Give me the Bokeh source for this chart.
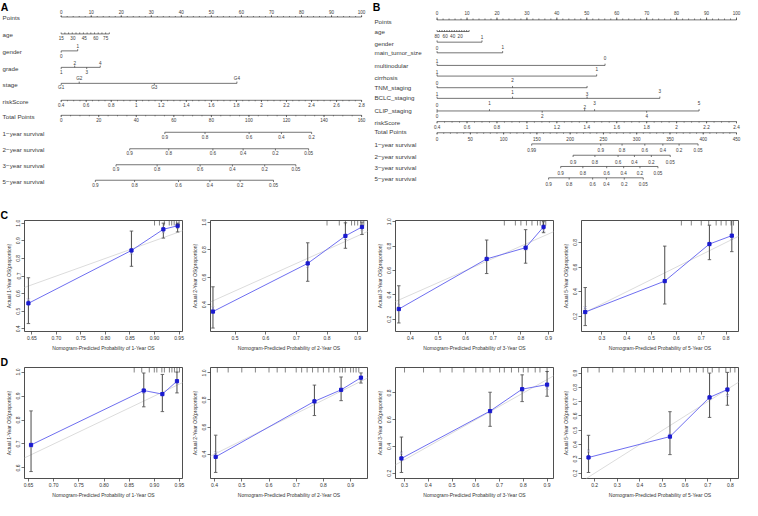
import numpy as np
from bokeh.plotting import figure
from bokeh.layouts import column, row
from bokeh.models import Range1d, Title, FixedTicker, NumeralTickFormatter
from bokeh.core.properties import value
from bokeh.embed import file_html
from bokeh.resources import INLINE

FONT = "Liberation Sans"
INK = "#3a3a3a"

# ======================= Panel A : nomogram (training set) =======================
A_points = [0, 10, 20, 30, 40, 50, 60, 70, 80, 90, 100]
A_age_vals = ["15", "30", "45", "60", "75"]
A_age_pts = [0.0, 3.9, 7.7, 11.5, 14.8]
A_age_end = 16.0
A_gender_lab = ["0", "1"]
A_gender_pts = [0.0, 5.5]
A_gender_side = ["b", "a"]
A_grade_lab = ["1", "2", "3", "4"]
A_grade_pts = [0.0, 4.5, 8.5, 13.0]
A_grade_side = ["b", "a", "b", "a"]
A_stage_lab = ["G1", "G2", "G3", "G4"]
A_stage_pts = [0.0, 6.0, 31.0, 58.5]
A_stage_side = ["b", "a", "b", "a"]
A_risk_vals = [0.4, 0.6, 0.8, 1, 1.2, 1.4, 1.6, 1.8, 2, 2.2, 2.4, 2.6, 2.8]
A_total_vals = [0, 20, 40, 60, 80, 100, 120, 140, 160]
A_s1_lab = ["0.9", "0.8", "0.6", "0.4", "0.2"]
A_s1_tp = [55.2, 76.6, 100.1, 117.3, 133.4]
A_s2_lab = ["0.9", "0.8", "0.6", "0.4", "0.2", "0.05"]
A_s2_tp = [36.5, 57.3, 80.8, 96.9, 114.1, 131.8]
A_s3_lab = ["0.9", "0.8", "0.6", "0.4", "0.2", "0.05"]
A_s3_tp = [29.2, 51.1, 74.0, 91.2, 108.4, 125.0]
A_s5_lab = ["0.9", "0.8", "0.6", "0.4", "0.2", "0.05"]
A_s5_tp = [18.2, 39.1, 62.5, 79.2, 95.3, 113.1]

# ======================= Panel B : nomogram (second cohort) =======================
B_points = [0, 10, 20, 30, 40, 50, 60, 70, 80, 90, 100]
B_age_lab = ["80", "60", "40", "20"]
B_age_pts = [0.0, 2.7, 5.2, 7.7]
B_age_end = 10.7
B_gender_lab = ["1"]
B_gender_pts = [15.0]
B_mts_lab = ["0", "1"]
B_mts_pts = [0.0, 21.9]
B_multi_lab = ["1", "0"]
B_multi_pts = [0.0, 56.1]
B_cirr_lab = ["1", "1"]
B_cirr_pts = [0.0, 53.3]
B_tnm_lab = ["0", "2"]
B_tnm_pts = [0.0, 25.2]
B_tnm_end = 50.1
B_bclc_lab = ["1", "1", "3", "3"]
B_bclc_pts = [0.0, 25.2, 50.1, 74.4]
B_clip_lab = ["0", "1", "2", "3", "5", "0", "2", "4"]
B_clip_pts = [0.0, 17.5, 49.3, 52.6, 87.5, 0.0, 35.1, 70.0]
B_risk_vals = [0.4, 0.6, 0.8, 1, 1.2, 1.4, 1.6, 1.8, 2, 2.2, 2.4]
B_total_vals = [0, 50, 100, 150, 200, 250, 300, 350, 400, 450]
B_s1_lab = ["0.99", "0.9", "0.8", "0.6", "0.4", "0.2", "0.05"]
B_s1_tp = [142.2, 246.0, 278.0, 312.2, 339.3, 363.7, 392.2]
B_s2_lab = ["0.9", "0.8", "0.6", "0.4", "0.2", "0.05"]
B_s2_tp = [204.4, 237.2, 272.0, 296.6, 322.0, 350.4]
B_s3_lab = ["0.9", "0.8", "0.6", "0.4", "0.2", "0.05"]
B_s3_tp = [185.8, 219.1, 254.9, 280.4, 304.9, 331.9]
B_s5_lab = ["0.9", "0.8", "0.6", "0.4", "0.2", "0.05"]
B_s5_tp = [167.6, 198.5, 233.8, 254.4, 281.3, 309.8]

# ======================= Calibration curves (C: training, D: validation) =======================
cal_names = ["1", "2", "3", "5"]
C_pred = [[0.643, 0.853, 0.918, 0.947], [0.428, 0.737, 0.860, 0.914],
          [0.358, 0.676, 0.817, 0.882], [0.233, 0.553, 0.733, 0.823]]
C_obs = [[0.545, 0.845, 0.965, 0.985], [0.350, 0.700, 0.900, 0.965],
         [0.284, 0.695, 0.787, 0.958], [0.235, 0.486, 0.787, 0.855]]
C_lo = [[0.430, 0.755, 0.915, 0.950], [0.230, 0.570, 0.810, 0.910],
        [0.170, 0.575, 0.660, 0.910], [0.125, 0.300, 0.660, 0.725]]
C_hi = [[0.690, 0.955, 1.000, 1.000], [0.530, 0.850, 0.995, 1.000],
        [0.475, 0.850, 0.935, 1.000], [0.434, 0.770, 0.940, 0.990]]
C_corr = [[0.565, 0.830, 0.950, 0.975], [0.375, 0.680, 0.880, 0.950],
          [0.315, 0.690, 0.775, 0.930], [0.270, 0.490, 0.780, 0.830]]
C_xt = [[0.65, 0.70, 0.75, 0.80, 0.85, 0.90, 0.95], [0.5, 0.6, 0.7, 0.8, 0.9],
        [0.4, 0.5, 0.6, 0.7, 0.8, 0.9], [0.3, 0.4, 0.5, 0.6, 0.7, 0.8]]
C_yt = [[0.4, 0.5, 0.6, 0.7, 0.8, 0.9, 1.0], [0.4, 0.6, 0.8, 1.0],
        [0.2, 0.4, 0.6, 0.8, 1.0], [0.2, 0.4, 0.6, 0.8]]
C_rug = [[0.90, 0.91, 0.92, 0.93, 0.935, 0.94, 0.945, 0.95],
         [0.80, 0.84, 0.86, 0.88, 0.89, 0.90, 0.91, 0.92],
         [0.74, 0.78, 0.80, 0.82, 0.84, 0.86, 0.87, 0.88, 0.89],
         [0.62, 0.66, 0.70, 0.73, 0.76, 0.78, 0.80, 0.82, 0.83]]
C_xr = [(0.635, 0.957), (0.420, 0.932), (0.346, 0.918), (0.218, 0.850)]
C_yr = [(0.385, 1.015), (0.205, 1.012), (0.100, 1.010), (0.077, 0.978)]
D_pred = [[0.655, 0.879, 0.916, 0.945], [0.404, 0.767, 0.865, 0.938],
          [0.287, 0.660, 0.795, 0.900], [0.173, 0.533, 0.708, 0.787]]
D_obs = [[0.696, 0.923, 0.908, 0.962], [0.380, 0.790, 0.875, 0.965],
         [0.310, 0.664, 0.828, 0.862], [0.310, 0.456, 0.730, 0.785]]
D_lo = [[0.585, 0.855, 0.835, 0.913], [0.265, 0.685, 0.795, 0.925],
        [0.205, 0.550, 0.735, 0.775], [0.205, 0.330, 0.590, 0.675]]
D_hi = [[0.838, 0.996, 0.990, 1.000], [0.540, 0.910, 0.970, 1.000],
        [0.470, 0.805, 0.935, 0.960], [0.465, 0.630, 0.900, 0.905]]
D_corr = [[0.690, 0.915, 0.905, 0.955], [0.410, 0.785, 0.870, 0.955],
          [0.350, 0.660, 0.820, 0.835], [0.355, 0.465, 0.720, 0.745]]
D_xt = [[0.65, 0.70, 0.75, 0.80, 0.85, 0.90, 0.95], [0.4, 0.5, 0.6, 0.7, 0.8, 0.9],
        [0.3, 0.4, 0.5, 0.6, 0.7, 0.8, 0.9], [0.2, 0.3, 0.4, 0.5, 0.6, 0.7, 0.8]]
D_yt = [[0.6, 0.7, 0.8, 0.9, 1.0], [0.4, 0.6, 0.8, 1.0],
        [0.2, 0.4, 0.6, 0.8], [0.2, 0.3, 0.4, 0.5, 0.6, 0.7, 0.8, 0.9]]
D_rug = [[0.86, 0.875, 0.89, 0.90, 0.905, 0.915, 0.92, 0.93, 0.935, 0.94, 0.945, 0.95],
         [0.41, 0.45, 0.50, 0.55, 0.60, 0.63, 0.66, 0.70, 0.72, 0.74, 0.76, 0.78, 0.80,
          0.82, 0.84, 0.86, 0.87, 0.88, 0.90, 0.91, 0.92, 0.93],
         [0.30, 0.38, 0.45, 0.50, 0.55, 0.60, 0.63, 0.66, 0.70, 0.72, 0.75, 0.78, 0.80,
          0.82, 0.85, 0.87, 0.90],
         [0.17, 0.22, 0.28, 0.33, 0.38, 0.42, 0.46, 0.50, 0.54, 0.58, 0.62, 0.65, 0.68,
          0.70, 0.72, 0.75, 0.78, 0.80, 0.82]]
D_xr = [(0.642, 0.956), (0.385, 0.962), (0.262, 0.927), (0.142, 0.836)]
D_yr = [(0.556, 1.019), (0.220, 1.040), (0.160, 0.990), (0.163, 0.939)]


# ----------------------------------------------------------------- helpers
def nomo_fig(w, h, x0, x1, ybot):
    p = figure(width=w, height=h, x_range=Range1d(x0, x1), y_range=Range1d(ybot, 0),
               output_backend="svg", toolbar_location=None, min_border=0,
               x_axis_location=None, y_axis_location=None)
    p.xgrid.visible = False
    p.ygrid.visible = False
    p.outline_line_color = None
    return p


def seg(p, x0, y0, x1, y1, w=0.7, c=INK):
    p.segment(x0=list(x0), y0=list(y0), x1=list(x1), y1=list(y1), line_color=c, line_width=w)


def txt(p, xs, ys, labels, size="4.6px", align="center", base="middle", style="normal", color=INK):
    p.text(x=list(xs), y=list(ys), text=list(labels), text_font=value(FONT), text_font_size=size,
           text_align=align, text_baseline=base, text_font_style=style, text_color=color)


def scale_row(p, y, xs, labels, side, minor=None, tick=1.8, dy=4.8):
    seg(p, [min(xs)], [y], [max(xs)], [y])
    sgn = [-1 if s == "a" else 1 for s in side]
    seg(p, xs, [y] * len(xs), xs, [y + s * tick for s in sgn])
    if minor is not None:
        s0 = sgn[0]
        seg(p, minor, [y] * len(minor), minor, [y + s0 * tick * 0.55 for _ in minor])
    txt(p, xs, [y + s * dy for s in sgn], labels)


def lin_map(vals, v0, v1, p0, p1):
    return [p0 + (v - v0) * (p1 - p0) / (v1 - v0) for v in vals]


# ----------------------------------------------------------------- panel A
W_TOP, H_TOP, YBOT = 371, 206, 212.6
LAB_FS = "6.2px"
pA = nomo_fig(W_TOP, H_TOP, -20.2, 103.3, YBOT)
xlabA = -19.5
txt(pA, [-20.1], [0.5], ["A"], size="10.5px", align="left", base="top", style="bold", color="black")
rowsA = ["Points", "age", "gender", "grade", "stage", "riskScore", "Total Points",
         "1\u2212year survival", "2\u2212year survival", "3\u2212year survival", "5\u2212year survival"]
yA = [17, 34.5, 52, 69, 85.5, 103, 118.5, 136, 153, 169.5, 185.5]
txt(pA, [xlabA] * len(rowsA), [y + 1 for y in yA], rowsA, size=LAB_FS, align="left")
scale_row(pA, yA[0], A_points, [str(v) for v in A_points], ["a"] * len(A_points),
          minor=list(np.arange(0, 100.1, 2)), dy=5)
age_minor = lin_map(list(range(15, 81, 5)), 15, 75, A_age_pts[0], A_age_pts[-1])
seg(pA, [0], [yA[1]], [A_age_end], [yA[1]])
seg(pA, age_minor, [yA[1]] * len(age_minor), age_minor, [yA[1] - 1.5] * len(age_minor))
txt(pA, A_age_pts, [yA[1] + 4.5] * 5, A_age_vals)
scale_row(pA, yA[2], A_gender_pts, A_gender_lab, A_gender_side)
scale_row(pA, yA[3], A_grade_pts, A_grade_lab, A_grade_side)
scale_row(pA, yA[4], A_stage_pts, A_stage_lab, A_stage_side)
risk_pts = lin_map(A_risk_vals, 0.4, 2.8, 0, 100)
risk_minor = lin_map(list(np.arange(0.4, 2.801, 0.05)), 0.4, 2.8, 0, 100)
scale_row(pA, yA[5], risk_pts, [f"{v:g}" for v in A_risk_vals], ["b"] * len(risk_pts), minor=risk_minor)
tot_pts = lin_map(A_total_vals, 0, 160, 0, 100)
tot_minor = lin_map(list(range(0, 161, 5)), 0, 160, 0, 100)
scale_row(pA, yA[6], tot_pts, [str(v) for v in A_total_vals], ["b"] * len(tot_pts), minor=tot_minor)
for i, (lab, tp) in enumerate([(A_s1_lab, A_s1_tp), (A_s2_lab, A_s2_tp), (A_s3_lab, A_s3_tp), (A_s5_lab, A_s5_tp)]):
    scale_row(pA, yA[7 + i], lin_map(tp, 0, 160, 0, 100), lab, ["b"] * len(lab))

# ----------------------------------------------------------------- panel B
pB = nomo_fig(W_TOP, H_TOP, -21.9, 102.0, YBOT)
xlabB = -20.9
txt(pB, [-21.5], [0.5], ["B"], size="10.5px", align="left", base="top", style="bold", color="black")
rowsB = ["Points", "age", "gender", "main_tumor_size", "multinodular", "cirrhosis", "TNM_staging",
         "BCLC_staging", "CLIP_staging", "riskScore", "Total Points",
         "1\u2212year survival", "2\u2212year survival", "3\u2212year survival", "5\u2212year survival"]
yBl = [21, 31, 43, 53, 66, 78, 89, 99, 113, 125, 134.5, 148, 159.5, 171, 183]
txt(pB, [xlabB] * len(rowsB), [y + 1 for y in yBl], rowsB, size=LAB_FS, align="left")
yB = [20, 32, 43, 54, 67, 78, 90, 101, 114, 125, 136.5, 148, 159.7, 171.3, 183]
scale_row(pB, yB[0], B_points, [str(v) for v in B_points], ["a"] * len(B_points),
          minor=list(np.arange(0, 100.1, 2)), dy=7.5, tick=2.5)
age_minor_B = list(np.linspace(0, B_age_end, 14))
seg(pB, [0], [yB[1]], [B_age_end], [yB[1]])
seg(pB, age_minor_B, [yB[1]] * 14, age_minor_B, [yB[1] - 1.5] * 14)
txt(pB, B_age_pts, [yB[1] + 4.5] * 4, B_age_lab)
seg(pB, [0], [yB[2]], [B_gender_pts[0]], [yB[2]])
seg(pB, [0, B_gender_pts[0]], [yB[2]] * 2, [0, B_gender_pts[0]], [yB[2] - 1.8] * 2)
txt(pB, B_gender_pts, [yB[2] - 5.5], B_gender_lab)
for yy, lab, pts, dys in [(yB[3], B_mts_lab, B_mts_pts, [4.5, 6.5]),
                          (yB[4], B_multi_lab, B_multi_pts, [4.5, 7.5]),
                          (yB[5], B_cirr_lab, B_cirr_pts, [4.5, 7])]:
    seg(pB, [min(pts)], [yy], [max(pts)], [yy])
    seg(pB, pts, [yy] * len(pts), pts, [yy - 1.8] * len(pts))
    txt(pB, pts, [yy - d for d in dys], lab)
seg(pB, [0], [yB[6]], [B_tnm_end], [yB[6]])
seg(pB, B_tnm_pts + [B_tnm_end], [yB[6]] * 3, B_tnm_pts + [B_tnm_end], [yB[6] - 1.8] * 3)
txt(pB, B_tnm_pts, [yB[6] - 5, yB[6] - 8], B_tnm_lab)
seg(pB, [0], [yB[7]], [max(B_bclc_pts)], [yB[7]])
seg(pB, B_bclc_pts, [yB[7]] * 4, B_bclc_pts, [yB[7] - 1.8] * 4)
txt(pB, B_bclc_pts, [yB[7] - 4, yB[7] - 7, yB[7] - 4, yB[7] - 8], B_bclc_lab)
seg(pB, [0], [yB[8]], [max(B_clip_pts)], [yB[8]])
seg(pB, B_clip_pts, [yB[8]] * 8, B_clip_pts, [yB[8] - 1.8] * 5 + [yB[8] + 1.8] * 3)
txt(pB, B_clip_pts, [yB[8] - 6, yB[8] - 8, yB[8] - 4, yB[8] - 8, yB[8] - 8,
                     yB[8] + 5, yB[8] + 5, yB[8] + 5], B_clip_lab)
riskB = lin_map(B_risk_vals, 0.4, 2.4, 0, 100)
riskB_minor = lin_map(list(np.arange(0.4, 2.401, 0.05)), 0.4, 2.4, 0, 100)
scale_row(pB, yB[9], riskB, [f"{v:g}" for v in B_risk_vals], ["b"] * len(riskB), minor=riskB_minor, dy=5.8)
totB = lin_map(B_total_vals, 0, 450, 0, 100)
totB_minor = lin_map(list(range(0, 451, 10)), 0, 450, 0, 100)
scale_row(pB, yB[10], totB, [str(v) for v in B_total_vals], ["b"] * len(totB), minor=totB_minor, dy=6.5)
for i, (lab, tp) in enumerate([(B_s1_lab, B_s1_tp), (B_s2_lab, B_s2_tp),
                               (B_s3_lab, B_s3_tp), (B_s5_lab, B_s5_tp)]):
    xs = lin_map(tp, 0, 450, 0, 100)
    scale_row(pB, yB[11 + i], xs, lab, ["b"] * len(lab), dy=6.6)


# ----------------------------------------------------------------- calibration panels
def fmt_for(ticks):
    return "0.00" if any(abs(round(t * 10) - t * 10) > 1e-6 for t in ticks) else "0.0"


def calib(w, h, xr, yr, xt, yt, pred, obs, lo, hi, corr, rug, yr_name, letter, first):
    p = figure(width=w, height=h, x_range=Range1d(*xr), y_range=Range1d(*yr),
               output_backend="svg", toolbar_location=None,
               min_border_left=24, min_border_right=4, min_border_top=0, min_border_bottom=0)
    p.add_layout(Title(text=letter, text_font=FONT, text_font_size="10.5px", text_font_style="bold",
                       text_color="black", text_alpha=1.0 if first else 0.0, align="left",
                       offset=-24, standoff=0), "above")
    p.xgrid.visible = False
    p.ygrid.visible = False
    p.outline_line_color = "#222222"
    p.outline_line_width = 0.8
    a = max(xr[0], yr[0])
    b = min(xr[1], yr[1])
    p.line([a, b], [a, b], line_color="#dcdcdc", line_width=1.0)
    dx = 0.011 * (xr[1] - xr[0])
    p.segment(x0=pred, y0=lo, x1=pred, y1=hi, line_color="#5a5a5a", line_width=1.1)
    p.segment(x0=[x - dx for x in pred], y0=lo, x1=[x + dx for x in pred], y1=lo,
              line_color="#5a5a5a", line_width=0.9)
    p.segment(x0=[x - dx for x in pred], y0=hi, x1=[x + dx for x in pred], y1=hi,
              line_color="#5a5a5a", line_width=0.9)
    p.line(pred, obs, line_color="#6f6ff0", line_width=1.0)
    p.scatter(pred, corr, marker="x", size=3.5, line_color="#8a8ab8", line_width=0.8)
    p.scatter(pred, obs, marker="square", size=3.2, fill_color="#1a1ad0", line_color="#1a1ad0")
    top = yr[1]
    hgt = 0.045 * (yr[1] - yr[0])
    p.segment(x0=rug, y0=[top - hgt] * len(rug), x1=rug, y1=[top] * len(rug),
              line_color="#333333", line_width=0.6)
    p.xaxis.ticker = FixedTicker(ticks=xt)
    p.yaxis.ticker = FixedTicker(ticks=yt)
    p.xaxis.formatter = NumeralTickFormatter(format=fmt_for(xt))
    p.yaxis.formatter = NumeralTickFormatter(format=fmt_for(yt))
    p.xaxis.axis_label = f"Nomogram-Predicted Probability of {yr_name}-Year OS"
    p.yaxis.axis_label = f"Actual {yr_name}-Year OS(proportion)"
    for ax in (p.xaxis[0], p.yaxis[0]):
        ax.axis_line_color = None
        ax.major_tick_line_color = "#333333"
        ax.major_tick_line_width = 0.7
        ax.major_tick_out = 3
        ax.major_tick_in = 0
        ax.minor_tick_line_color = None
        ax.major_label_text_font = FONT
        ax.major_label_text_font_size = "5px"
        ax.major_label_text_color = "#333333"
        ax.major_label_standoff = 1
        ax.axis_label_text_font = FONT
        ax.axis_label_text_font_size = "5px"
        ax.axis_label_text_font_style = "normal"
        ax.axis_label_text_color = "#333333"
        ax.axis_label_standoff = 2
    p.yaxis.major_label_orientation = "vertical"
    return p


widths = [186, 185, 186, 185]
HC = 147
rowC = [calib(widths[i], HC, C_xr[i], C_yr[i], C_xt[i], C_yt[i], C_pred[i], C_obs[i], C_lo[i], C_hi[i],
              C_corr[i], C_rug[i], cal_names[i], "C", i == 0) for i in range(4)]
rowD = [calib(widths[i], HC, D_xr[i], D_yr[i], D_xt[i], D_yt[i], D_pred[i], D_obs[i], D_lo[i], D_hi[i],
              D_corr[i], D_rug[i], cal_names[i], "D", i == 0) for i in range(4)]

layout = column(row(pA, pB), row(*rowC), row(*rowD))
open("out.html", "w").write(file_html(layout, INLINE))
